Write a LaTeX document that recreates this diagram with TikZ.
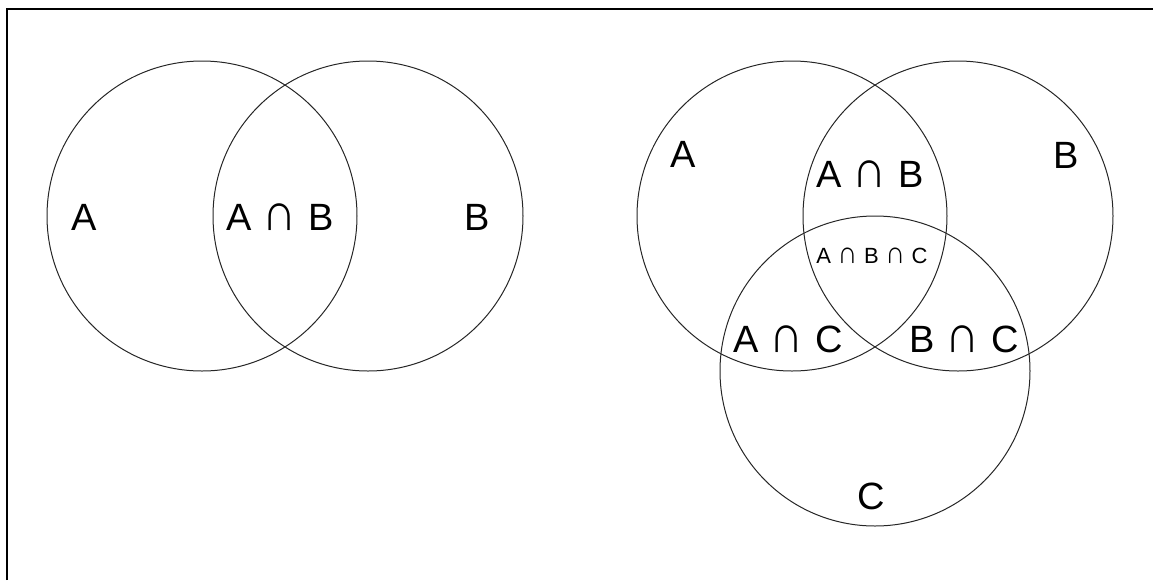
\documentclass[tikz,border=0pt]{standalone}
\usepackage{fontspec}
\usepackage{graphicx}
\setmainfont{Liberation Sans}
\newcommand\isect{\hspace{0.3em}\scalebox{1.25}[1.4]{∩}\hspace{0.3em}}
\usetikzlibrary{calc}
\tikzset{
	venn/.style={line width=0.5pt, color=black!85},
	lbl/.style={inner sep=0pt, font=\fontsize{19}{19}\selectfont},
	smalllbl/.style={inner sep=0pt, font=\fontsize{11}{11}\selectfont}
}

\begin{document}
\begin{tikzpicture}[x=0.5pt, y=-0.5pt]
			%%%%% START %%%%%
			\useasboundingbox (0, 0) rectangle (1153, 580);
			
			\draw[line width=1pt] (7, 580) -- (7, 9) -- (1153, 9);
			
			% two sets
			\draw[venn] (202, 216) circle (155);
			\draw[venn] (368, 216) circle (155);
			
			\node[lbl] (twoA) at (84, 217) {A};
			\node[lbl] (twoAB) at (280, 217) {A\isect B};
			\node[lbl] (twoB) at (477, 217) {B};
			
			% three sets
			\draw[venn] (792, 216) circle (155);
			\draw[venn] (958, 216) circle (155);
			\draw[venn] (875, 371) circle (155);
			
			\node[lbl] (threeA) at (683, 154) {A};
			\node[lbl] (threeB) at (1066, 155) {B};
			\node[lbl] (threeC) at (871, 496) {C};
			\node[lbl] (threeAB) at (870, 174) {A\isect B};
			\node[lbl] (threeAC) at (788, 339) {A\isect C};
			\node[lbl] (threeBC) at (964, 339) {B\isect C};
			\node[smalllbl] (threeABC) at (872, 256) {A\isect B\isect C};
			
			%%%%% END %%%%%
\end{tikzpicture}
\end{document}
